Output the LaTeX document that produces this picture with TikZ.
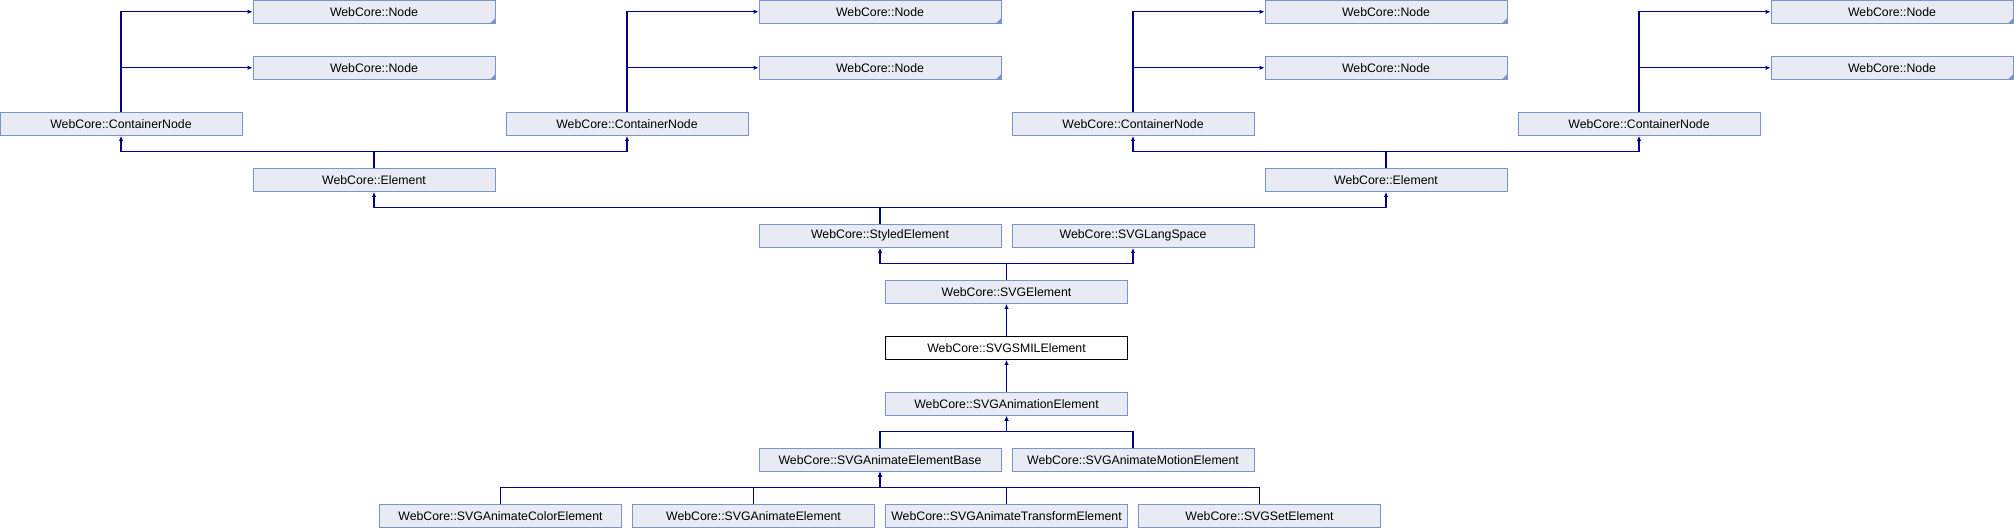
\documentclass[tikz,border=0pt]{standalone}
\usepackage{fontspec}
\setmainfont{Liberation Sans}
\usetikzlibrary{arrows.meta}
\definecolor{boxfill}{RGB}{232,235,244}
\definecolor{boxline}{RGB}{124,148,204}
\definecolor{inhblue}{RGB}{0,0,140}
\begin{document}
\begin{tikzpicture}[x=1pt, y=-1pt,
    every node/.style={rectangle, draw=boxline, fill=boxfill, line width=0.9pt,
      minimum width=242pt, minimum height=23.5pt, inner sep=0pt,
      font=\fontsize{12.3}{14}\selectfont},
    hilite/.style={draw=black, fill=white},
    inh/.style={draw=inhblue, line width=1.1pt, -{Latex[length=5pt, width=4.5pt]}}]
        \useasboundingbox (0,0) rectangle (2014,528);
        % base classes, cut off
        \node (n1) at (374, 11.75) {WebCore::Node};
        \node (n2) at (374, 67.75) {WebCore::Node};
        \node (n3) at (880, 11.75) {WebCore::Node};
        \node (n4) at (880, 67.75) {WebCore::Node};
        \node (n5) at (1386, 11.75) {WebCore::Node};
        \node (n6) at (1386, 67.75) {WebCore::Node};
        \node (n7) at (1892, 11.75) {WebCore::Node};
        \node (n8) at (1892, 67.75) {WebCore::Node};
        \foreach \n in {n1, n2, n3, n4, n5, n6, n7, n8}
            \fill[boxline] (\n.south east) -- ++(-6, 0) -- ++(6, -6) -- cycle;
        \node (cn1) at (121, 123.75) {WebCore::ContainerNode};
        \node (cn2) at (627, 123.75) {WebCore::ContainerNode};
        \node (cn3) at (1133, 123.75) {WebCore::ContainerNode};
        \node (cn4) at (1639, 123.75) {WebCore::ContainerNode};
        \node (el1) at (374, 179.75) {WebCore::Element};
        \node (el2) at (1386, 179.75) {WebCore::Element};
        \node (styled) at (880, 235.75) {WebCore::StyledElement};
        \node (lang) at (1133, 235.75) {WebCore::SVGLangSpace};
        \node (svgel) at (1006.5, 291.75) {WebCore::SVGElement};
        \node[hilite] (smil) at (1006.5, 347.75) {WebCore::SVGSMILElement};
        \node (anim) at (1006.5, 403.75) {WebCore::SVGAnimationElement};
        \node (base) at (880, 459.75) {WebCore::SVGAnimateElementBase};
        \node (motion) at (1133, 459.75) {WebCore::SVGAnimateMotionElement};
        \node (color) at (500.5, 515.75) {WebCore::SVGAnimateColorElement};
        \node (animel) at (753.5, 515.75) {WebCore::SVGAnimateElement};
        \node (transf) at (1006.5, 515.75) {WebCore::SVGAnimateTransformElement};
        \node (set) at (1259.5, 515.75) {WebCore::SVGSetElement};
        % inheritance
        \draw[inh] (cn1.north) |- (n1.west);
        \draw[inh] (cn1.north) |- (n2.west);
        \draw[inh] (cn2.north) |- (n3.west);
        \draw[inh] (cn2.north) |- (n4.west);
        \draw[inh] (cn3.north) |- (n5.west);
        \draw[inh] (cn3.north) |- (n6.west);
        \draw[inh] (cn4.north) |- (n7.west);
        \draw[inh] (cn4.north) |- (n8.west);
        \draw[inh] (el1.north) -- ++(0, -16.25) -| (cn1.south);
        \draw[inh] (el1.north) -- ++(0, -16.25) -| (cn2.south);
        \draw[inh] (el2.north) -- ++(0, -16.25) -| (cn3.south);
        \draw[inh] (el2.north) -- ++(0, -16.25) -| (cn4.south);
        \draw[inh] (styled.north) -- ++(0, -16.25) -| (el1.south);
        \draw[inh] (styled.north) -- ++(0, -16.25) -| (el2.south);
        \draw[inh] (svgel.north) -- ++(0, -16.25) -| (styled.south);
        \draw[inh] (svgel.north) -- ++(0, -16.25) -| (lang.south);
        \draw[inh] (smil) -- (svgel);
        \draw[inh] (anim) -- (smil);
        \draw[inh] (base.north) -- ++(0, -16.25) -| (anim.south);
        \draw[inh] (motion.north) -- ++(0, -16.25) -| (anim.south);
        \draw[inh] (color.north) -- ++(0, -16.25) -| (base.south);
        \draw[inh] (animel.north) -- ++(0, -16.25) -| (base.south);
        \draw[inh] (transf.north) -- ++(0, -16.25) -| (base.south);
        \draw[inh] (set.north) -- ++(0, -16.25) -| (base.south);
    \end{tikzpicture}
\end{document}
